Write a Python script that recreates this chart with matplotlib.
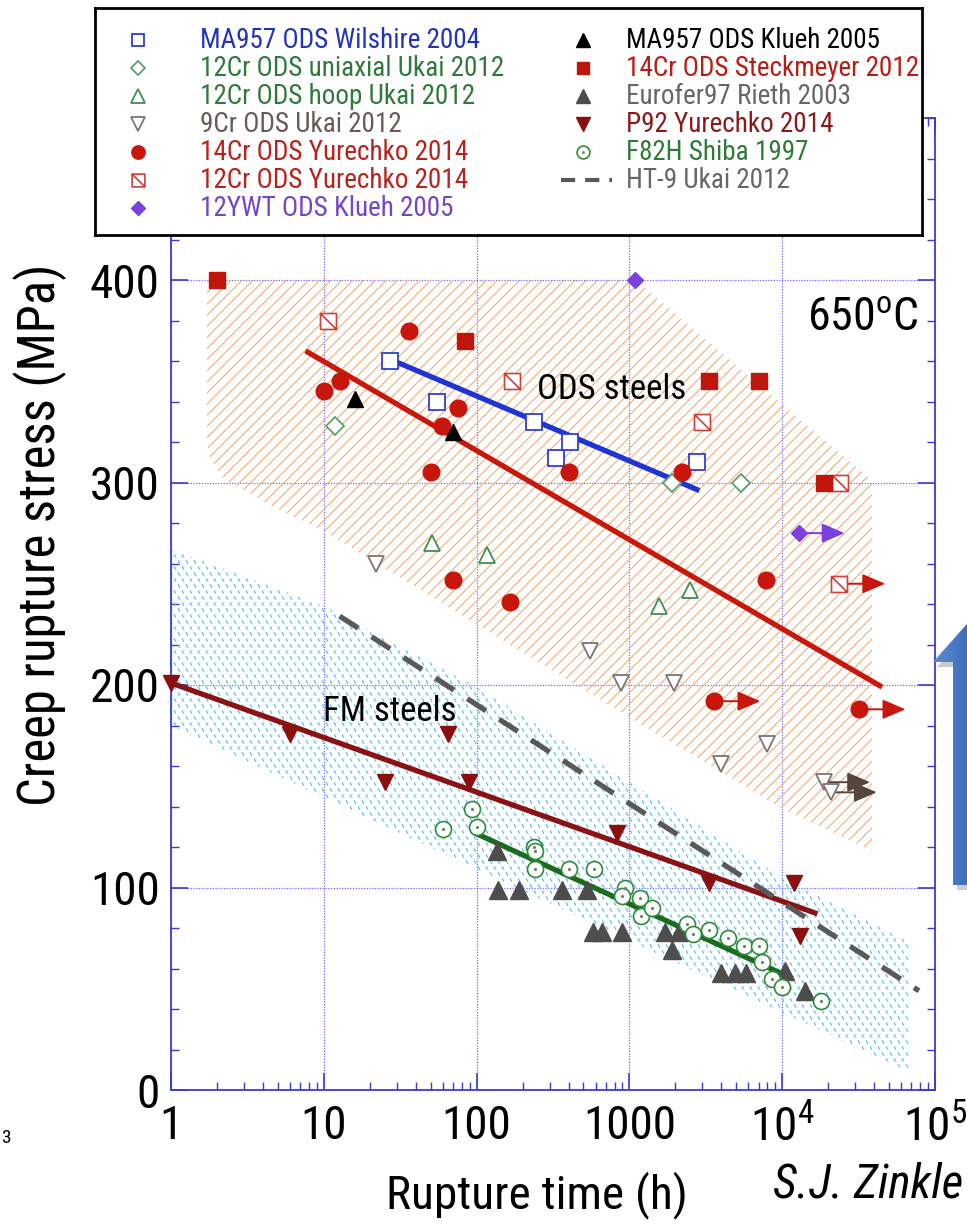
import numpy as np
import matplotlib
matplotlib.use("Agg")
import matplotlib.pyplot as plt
from matplotlib.path import Path
from matplotlib.patches import Polygon
from matplotlib.collections import LineCollection
from matplotlib.colors import LinearSegmentedColormap
from matplotlib.ticker import FixedLocator, MultipleLocator, LogLocator, NullFormatter, FixedFormatter

NARROW = ['Roboto Condensed', 'Archivo Narrow', 'Pragati Narrow', 'Liberation Sans', 'DejaVu Sans']
plt.rcParams['font.family'] = NARROW
plt.rcParams['mathtext.fontset'] = 'custom'
plt.rcParams['mathtext.rm'] = 'Roboto Condensed'
plt.rcParams['mathtext.it'] = 'Roboto Condensed:italic'
plt.rcParams['hatch.linewidth'] = 0.8

# ---- creep rupture data at 650 C (time in h, stress in MPa) ----
wil_t = [27, 55, 236, 330, 410, 2770]
wil_s = [360, 340, 330, 312, 320, 310]

uni_t = [11.8, 1900, 5400]
uni_s = [328, 300, 300]

hoop_t = [51, 117, 1570, 2500]
hoop_s = [270, 264, 239, 247]

cr9_t = [22, 550, 880, 1970, 4000, 7900]
cr9_s = [260, 217, 201, 201, 161, 171]
cr9_run_t = [18800, 20800]
cr9_run_s = [152, 147]

cr14_t = [10, 12.7, 36, 50, 59, 70, 76, 166, 400, 2200, 7800]
cr14_s = [345, 350, 375, 305, 328, 252, 337, 241, 305, 305, 252]
cr14_run_t = [3600, 32000]
cr14_run_s = [192, 188]

cr12y_t = [10.6, 170, 3000, 24000]
cr12y_s = [380, 350, 330, 300]
cr12y_run_t = [23600]
cr12y_run_s = [250]

ywt_t = [1080]
ywt_s = [400]
ywt_run_t = [12800]
ywt_run_s = [275]

klueh_t = [16, 70]
klueh_s = [341, 325]

steck_t = [2, 84, 3300, 7100, 18800]
steck_s = [400, 370, 350, 350, 300]

euro_t = [135, 138, 190, 360, 525, 575, 660, 900, 1700, 1900, 2100, 4000, 4900, 5800, 10500, 14000]
euro_s = [118, 99, 99, 99, 99, 78, 78, 78, 78, 69, 78, 58, 58, 58, 59, 49]

p92_t = [1, 6, 25, 65, 89, 830, 3300, 12000, 13000]
p92_s = [201, 176, 152, 176, 152, 127, 102, 102, 76]

f82h_t = [60, 94, 100, 236, 240, 240, 405, 590, 930, 900, 1180, 1190, 1400,
          2400, 2600, 3300, 4400, 5600, 7000, 7400, 8600, 10000, 18000]
f82h_s = [129, 139, 130, 120, 118, 109, 109, 109, 100, 96, 95, 86, 90,
          82, 77, 79, 75, 71, 71, 63, 55, 51, 44]

# trend lines
wil_fit_t, wil_fit_s = [25, 2870], [362, 296]
ods_fit_t, ods_fit_s = [7.6, 45000], [365, 199]
p92_fit_t, p92_fit_s = [1, 17000], [201, 87]
f82h_fit_t, f82h_fit_s = [97, 11700], [127, 55]
ht9_t, ht9_s = [12.7, 78500], [234, 49]

# scatter bands
ods_band_t = [1.72, 1100, 38700, 38700, 10000, 1000, 100, 10, 4.4, 2.2, 1.8, 1.72]
ods_band_s = [400, 400, 301, 118, 139, 184, 230, 276, 289, 302, 312, 320]
fm_band_t = [1, 10, 100, 1000, 10000, 67600, 67600, 1]
fm_band_s = [267, 239, 199, 152, 105, 73, 9, 180]

x_ticks = [1, 10, 100, 1000, 1e4, 1e5]
x_labels = ['1', '10', '100', '1000', r'$10^4$', r'$10^5$']
y_ticks = [0, 100, 200, 300, 400]

# ---- figure ----
W, H = 967, 1225
fig = plt.figure(figsize=(W / 100, H / 100), dpi=100)
ax = fig.add_axes([171 / W, 1 - 1090 / H, (935 - 171) / W, (1090 - 118) / H])
ax.set_xscale('log')
ax.set_xlim(1, 1e5)
ax.set_ylim(0, 480)

axis_blue = '#3b3bd2'
for sp in ax.spines.values():
    sp.set_color(axis_blue)
    sp.set_linewidth(1.3)

ax.xaxis.set_major_locator(FixedLocator(x_ticks))
ax.xaxis.set_major_formatter(FixedFormatter(x_labels))
ax.xaxis.set_minor_locator(LogLocator(base=10, subs=np.arange(2, 10), numticks=20))
ax.xaxis.set_minor_formatter(NullFormatter())
ax.yaxis.set_major_locator(FixedLocator(y_ticks))
ax.yaxis.set_minor_locator(MultipleLocator(20))
ax.tick_params(which='both', direction='in', top=True, right=True,
               color=axis_blue, labelcolor='black', labelsize=34)
ax.tick_params(which='major', length=12, width=1.2)
ax.tick_params(which='minor', length=6, width=1.0)
ax.tick_params(axis='x', pad=10)
ax.tick_params(axis='y', pad=8)
ax.grid(True, which='major', color='#6b6bff', linestyle=(0, (1, 1.2)), linewidth=0.9)
ax.set_axisbelow(True)

# ODS band: orange diagonal hatching
ods_band = Polygon(np.column_stack([ods_band_t, ods_band_s]), closed=True,
                   facecolor='none', edgecolor='#f4ad78', lw=0, hatch='///', zorder=1)
ax.add_patch(ods_band)

# FM band: short light-blue dashes clipped to the band outline
fm_band = Polygon(np.column_stack([fm_band_t, fm_band_s]), closed=True,
                  facecolor='none', edgecolor='none', zorder=1)
ax.add_patch(fm_band)
aw, ah = 764.0, 972.0
segs = []
for j, yy in enumerate(np.arange(0, ah + 6, 6.0)):
    off = 4.0 if j % 2 else 0.0
    for xx in np.arange(0, aw + 8, 8.0) + off:
        segs.append([((xx - 1.0) / aw, (yy + 1.7) / ah), ((xx + 1.0) / aw, (yy - 1.7) / ah)])
tex = LineCollection(segs, colors='#6cc3ea', linewidths=1.0, transform=ax.transAxes, zorder=1)
tex.set_clip_path(fm_band)
ax.add_collection(tex, autolim=False)

# trend lines
ax.plot(wil_fit_t, wil_fit_s, color='#1e34d4', lw=3.8, solid_capstyle='butt', zorder=3)
ax.plot(ods_fit_t, ods_fit_s, color='#c8180c', lw=3.8, solid_capstyle='butt', zorder=3)
ax.plot(p92_fit_t, p92_fit_s, color='#8b1212', lw=3.8, solid_capstyle='butt', zorder=3)
ax.plot(f82h_fit_t, f82h_fit_s, color='#1a6b1e', lw=3.8, solid_capstyle='butt', zorder=3)
ax.plot(ht9_t, ht9_s, color='#595959', lw=3.8, dashes=(4.2, 3.0), zorder=3)

# square with a diagonal stroke
hatched_sq = Path([(-1, -1), (1, -1), (1, 1), (-1, 1), (-1, -1), (-1, 1), (1, -1)],
                  [Path.MOVETO, Path.LINETO, Path.LINETO, Path.LINETO, Path.CLOSEPOLY,
                   Path.MOVETO, Path.LINETO])

series = [
    (wil_t, wil_s, dict(marker='s', ms=11, mfc='white', mec='#2d3fd6', mew=1.3)),
    (uni_t, uni_s, dict(marker='D', ms=9, mfc='white', mec='#5f9f6f', mew=1.3)),
    (hoop_t, hoop_s, dict(marker='^', ms=12, mfc='white', mec='#3f8f4f', mew=1.3)),
    (cr9_t + cr9_run_t, cr9_s + cr9_run_s, dict(marker='v', ms=12, mfc='white', mec='#7d7474', mew=1.3)),
    (cr14_t + cr14_run_t, cr14_s + cr14_run_s, dict(marker='o', ms=12, mfc='#c8160c', mec='#c8160c')),
    (cr12y_t + cr12y_run_t, cr12y_s + cr12y_run_s, dict(marker=hatched_sq, ms=11.5, mfc='white', mec='#d0403a', mew=1.2)),
    (ywt_t + ywt_run_t, ywt_s + ywt_run_s, dict(marker='D', ms=8.5, mfc='#7a40e0', mec='#7a40e0')),
    (klueh_t, klueh_s, dict(marker='^', ms=12, mfc='black', mec='black')),
    (steck_t, steck_s, dict(marker='s', ms=11.5, mfc='#c0150a', mec='#c0150a')),
    (euro_t, euro_s, dict(marker='^', ms=12.5, mfc='#4d4d4d', mec='#4d4d4d')),
    (p92_t, p92_s, dict(marker='v', ms=12, mfc='#8a0f0f', mec='#8a0f0f')),
    (f82h_t, f82h_s, dict(marker='o', ms=11.5, mfc='white', mec='#2e8b3a', mew=1.2)),
]

# run-out arrows (tests not yet ruptured)
for rt, rs, col in [(cr9_run_t, cr9_run_s, '#55453f'), (cr14_run_t, cr14_run_s, '#c8160c'),
                    (cr12y_run_t, cr12y_run_s, '#c8160c'), (ywt_run_t, ywt_run_s, '#7a40e0')]:
    for ti, si in zip(rt, rs):
        ax.annotate('', xy=(ti * 2.0, si), xytext=(ti, si), zorder=3,
                    arrowprops=dict(arrowstyle='-|>,head_length=1.4,head_width=0.6',
                                    color=col, lw=1.4, shrinkA=0, shrinkB=0))

for t, s, kw in series:
    ax.plot(t, s, ls='none', zorder=4, clip_on=False, **kw)
ax.plot(f82h_t, f82h_s, ls='none', marker='.', ms=2.5, color='#5a8a5a', zorder=5)

ax.text(762, 346, 'ODS steels', fontsize=25, ha='center', va='center', zorder=5)
ax.text(27, 187, 'FM steels', fontsize=25, ha='center', va='center', zorder=5)
ax.text(33800, 381, r'650$^\mathrm{o}$C', fontsize=33, ha='center', va='center', zorder=5)

fig.text(40 / W, 1 - 535 / H, 'Creep rupture stress (MPa)', rotation=90,
         fontsize=36.5, ha='center', va='center')
fig.text(537 / W, 1 - 1195 / H, 'Rupture time (h)', fontsize=34, ha='center', va='center')
fig.text(868 / W, 1 - 1185 / H, 'S.J. Zinkle', fontsize=34, style='italic', ha='center', va='center')
fig.text(1 / W, 1 - 1138 / H, '3', fontsize=14, ha='left', va='center')

# ---- legend box ----
lax = fig.add_axes([95 / W, 1 - 235 / H, 827 / W, 227 / H], zorder=10)
lax.set_xlim(0, 827)
lax.set_ylim(227, 0)
lax.set_xticks([])
lax.set_yticks([])
for sp in lax.spines.values():
    sp.set_linewidth(2)
    sp.set_color('black')

left_entries = [
    ('MA957 ODS Wilshire 2004', '#2233bb', series[0][2]),
    ('12Cr ODS uniaxial Ukai 2012', '#2f7a3a', series[1][2]),
    ('12Cr ODS hoop Ukai 2012', '#2f7a3a', series[2][2]),
    ('9Cr ODS Ukai 2012', '#6a5a55', series[3][2]),
    ('14Cr ODS Yurechko 2014', '#b8221c', series[4][2]),
    ('12Cr ODS Yurechko 2014', '#b8221c', series[5][2]),
    ('12YWT ODS Klueh 2005', '#7444cc', series[6][2]),
]
right_entries = [
    ('MA957 ODS Klueh 2005', 'black', series[7][2]),
    ('14Cr ODS Steckmeyer 2012', '#b81d14', series[8][2]),
    ('Eurofer97 Rieth 2003', '#666666', series[9][2]),
    ('P92 Yurechko 2014', '#8b1a1a', series[10][2]),
    ('F82H Shiba 1997', '#2f7a3a', series[11][2]),
]
row_y = [32, 60, 88, 116, 144, 172, 200]
for (lab, col, kw), y in zip(left_entries, row_y):
    k = dict(kw)
    k['ms'] = k['ms'] * 0.8
    lax.plot([43], [y], ls='none', **k)
    lax.text(105, y, lab, color=col, fontsize=19.5, va='center')
for (lab, col, kw), y in zip(right_entries, row_y):
    k = dict(kw)
    k['ms'] = k['ms'] * 0.8
    lax.plot([488], [y], ls='none', **k)
    lax.text(531, y, lab, color=col, fontsize=19.5, va='center')
lax.plot([488], [row_y[4]], ls='none', marker='.', ms=2, color='#5a8a5a')
lax.plot([466, 517], [row_y[5], row_y[5]], color='#595959', lw=3, dashes=(3.4, 2.4))
lax.text(531, row_y[5], 'HT-9 Ukai 2012', color='#666666', fontsize=19.5, va='center')

# ---- block arrow on the right edge ----
arrow_px = np.array([(933, 662), (975, 615), (1017, 662), (996, 662), (996, 885), (953, 885), (953, 662)])
shadow = Polygon(np.column_stack([(arrow_px[:, 0] + 4) / W, 1 - (arrow_px[:, 1] + 5) / H]),
                 closed=True, transform=fig.transFigure, facecolor='#9a9a9a', alpha=0.5,
                 edgecolor='none', zorder=20)
fig.patches.append(shadow)
garr = fig.add_axes([933 / W, 1 - 885 / H, 84 / W, 270 / H], zorder=21)
garr.axis('off')
grad = np.linspace(0, 1, 64)[None, :] * np.ones((8, 1))
img = garr.imshow(grad, cmap=LinearSegmentedColormap.from_list('b', ['#5d8dd6', '#3467b8', '#2c5aa3']),
                  extent=(933, 1017, 885, 615), aspect='auto')
garr.set_xlim(933, 1017)
garr.set_ylim(885, 615)
clip = Polygon(arrow_px, closed=True, transform=garr.transData, facecolor='none', edgecolor='none')
garr.add_patch(clip)
img.set_clip_path(clip)

fig.savefig('out.png', dpi=100)
